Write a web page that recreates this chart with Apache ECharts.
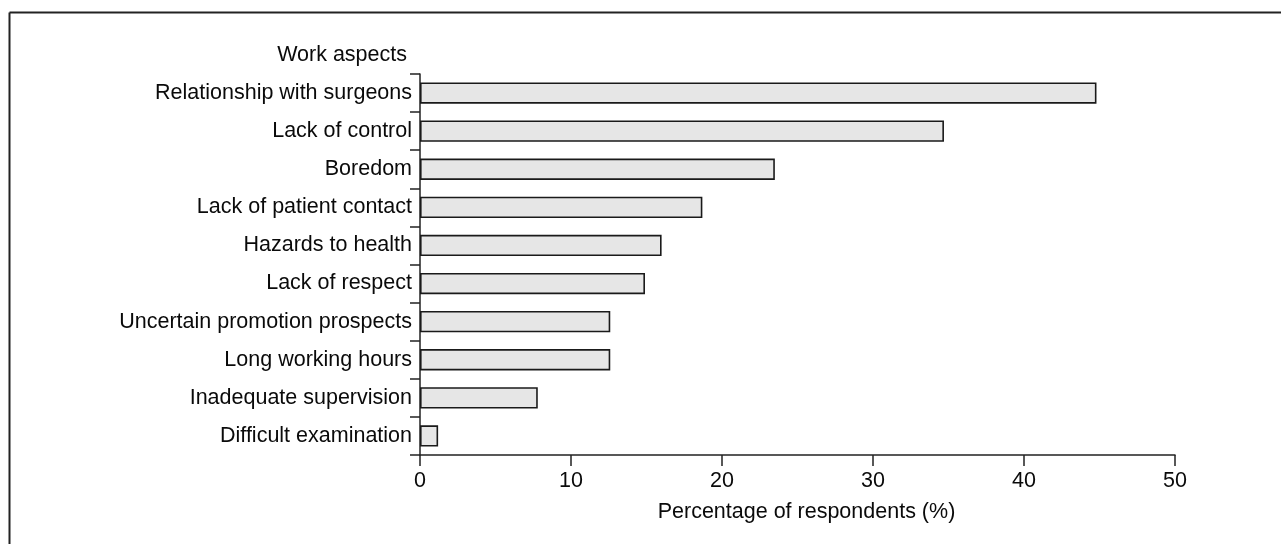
<!DOCTYPE html>
<html>
<head>
<meta charset="utf-8">
<script src="https://cdn.jsdelivr.net/npm/echarts@6/dist/echarts.min.js"></script>
<style>
html,body{margin:0;padding:0;background:#fff;}
#c{width:1281px;height:544px;}
</style>
</head>
<body>
<div id="c"></div>
<script>
const categories = [
  "Relationship with surgeons",
  "Lack of control",
  "Boredom",
  "Lack of patient contact",
  "Hazards to health",
  "Lack of respect",
  "Uncertain promotion prospects",
  "Long working hours",
  "Inadequate supervision",
  "Difficult examination"
];
const values = [44.8, 34.7, 23.5, 18.7, 16.0, 14.9, 12.6, 12.6, 7.8, 1.2];
const xTicks = [0, 10, 20, 30, 40, 50];

const FONT = "Liberation Sans, Arial, sans-serif";
const TXT = "#0a0a0a";
const chart = echarts.init(document.getElementById('c'), null, {renderer: 'canvas'});
chart.setOption({
  animation: false,
  backgroundColor: '#fff',
  title: {
    text: 'Work aspects',
    right: 869,
    top: 39,
    textStyle: {fontFamily: FONT, fontSize: 21.5, fontWeight: 'normal', color: TXT}
  },
  graphic: [
    {type: 'line', shape: {x1: 9.5, y1: 12.5, x2: 1281, y2: 12.5}, style: {stroke: '#222', lineWidth: 2}},
    {type: 'line', shape: {x1: 9.5, y1: 12.5, x2: 9.5, y2: 544}, style: {stroke: '#222', lineWidth: 2}}
  ],
  grid: {left: 420, right: 106, top: 74, bottom: 89, containLabel: false},
  xAxis: {
    type: 'value',
    min: xTicks[0],
    max: xTicks[xTicks.length - 1],
    interval: 10,
    name: 'Percentage of respondents (%)',
    nameLocation: 'middle',
    nameGap: 46,
    nameTextStyle: {fontFamily: FONT, fontSize: 21.5, color: TXT, padding: [0, 0, 0, 18]},
    axisLine: {show: true, lineStyle: {color: '#222', width: 1.5}},
    axisTick: {show: true, length: 11, lineStyle: {color: '#222', width: 1.5}},
    axisLabel: {fontFamily: FONT, fontSize: 21.5, color: TXT, margin: 15},
    splitLine: {show: false}
  },
  yAxis: {
    type: 'category',
    data: categories,
    inverse: true,
    axisLine: {show: true, lineStyle: {color: '#222', width: 1.5}},
    axisTick: {show: true, length: 10, alignWithLabel: false, lineStyle: {color: '#222', width: 1.5}},
    axisLabel: {fontFamily: FONT, fontSize: 21.5, color: TXT, margin: 8},
    splitLine: {show: false}
  },
  series: [{
    type: 'bar',
    data: values,
    barCategoryGap: '44%',
    itemStyle: {color: '#e6e6e6', borderColor: '#1a1a1a', borderWidth: 1.6}
  }]
});
</script>
</body>
</html>
